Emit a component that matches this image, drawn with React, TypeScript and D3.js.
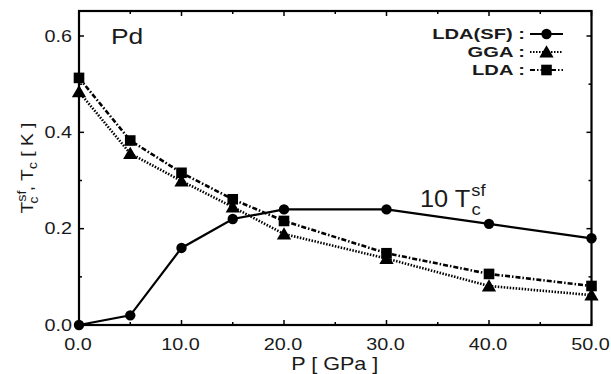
import React from 'react';
import * as d3 from 'd3';

const pressure = [0, 5, 10, 15, 20, 30, 40, 50];
const ldaSF = [0, 0.02, 0.16, 0.22, 0.24, 0.24, 0.21, 0.18];
const gga = [0.484, 0.356, 0.299, 0.245, 0.189, 0.138, 0.081, 0.062];
const lda = [0.513, 0.383, 0.316, 0.261, 0.216, 0.149, 0.106, 0.081];
const xTicks = [0, 10, 20, 30, 40, 50];
const xMinor = [5, 15, 25, 35, 45];
const yTicks = [0, 0.2, 0.4, 0.6];
const yMinor = [0.1, 0.3, 0.5];
const legendLabels = ['LDA(SF) :', 'GGA :', 'LDA :'];

const W = 611;
const H = 374;
const left = 79, right = 591.5, top = 11, bottom = 325;

const font = 'Arial, "Liberation Sans", sans-serif';

// text stretched horizontally, the original figure's font is wide
const SText = ({ x, y, sx = 1, anchor = 'start', size, weight, children }: any) => (
  <text transform={`translate(${x},${y}) scale(${sx},1)`} textAnchor={anchor} fontSize={size}
    fontWeight={weight} fill="#1a1a1a">
    {children}
  </text>
);

const App = () => {
  const x = d3.scaleLinear().domain([0, 50]).range([left, right]);
  const y = d3.scaleLinear().domain([0, 0.6]).range([bottom, 36]);

  const line = d3.line<number>().x((_, i) => x(pressure[i])).y(d => y(d));

  const tri = (cx: number, cy: number, s: number) =>
    `M${cx},${cy - s}L${cx + s * 1.05},${cy + s * 0.8}L${cx - s * 1.05},${cy + s * 0.8}Z`;

  const tick = 5, minor = 3;
  const dashes = [undefined, '1.5,1.5', '5,2,1.5,2'];
  const marks = ['circle', 'tri', 'square'];

  const drawMark = (kind: string, cx: number, cy: number, key: string | number) => {
    if (kind === 'circle') return <circle key={key} cx={cx} cy={cy} r={5.2} fill="#000" />;
    if (kind === 'tri') return <path key={key} d={tri(cx, cy, 6.8)} fill="#000" />;
    return <rect key={key} x={cx - 5.3} y={cy - 5.3} width={10.6} height={10.6} fill="#000" />;
  };

  return (
    <svg width={W} height={H} style={{ position: 'absolute', left: 0, top: 0 }} fontFamily={font}>
      <rect width={W} height={H} fill="#fff" />

      {/* ticks on all four sides, pointing in */}
      {xTicks.map(t => (
        <g key={'xt' + t} stroke="#000" strokeWidth={1.5}>
          <line x1={x(t)} x2={x(t)} y1={bottom} y2={bottom - tick} />
          <line x1={x(t)} x2={x(t)} y1={top} y2={top + tick} />
        </g>
      ))}
      {xMinor.map(t => (
        <g key={'xm' + t} stroke="#000" strokeWidth={1.5}>
          <line x1={x(t)} x2={x(t)} y1={bottom} y2={bottom - minor} />
          <line x1={x(t)} x2={x(t)} y1={top} y2={top + minor} />
        </g>
      ))}
      {yTicks.map(t => (
        <g key={'yt' + t} stroke="#000" strokeWidth={1.5}>
          <line x1={left} x2={left + tick} y1={y(t)} y2={y(t)} />
          <line x1={right} x2={right - tick} y1={y(t)} y2={y(t)} />
        </g>
      ))}
      {yMinor.map(t => (
        <g key={'ym' + t} stroke="#000" strokeWidth={1.5}>
          <line x1={left} x2={left + minor} y1={y(t)} y2={y(t)} />
          <line x1={right} x2={right - minor} y1={y(t)} y2={y(t)} />
        </g>
      ))}

      <rect x={left} y={top} width={right - left} height={bottom - top} fill="none" stroke="#000" strokeWidth={2.2} />

      {xTicks.map(t => (
        <SText key={'xl' + t} x={x(t) - 1} y={350} sx={1.2} anchor="middle" size={16.5}>{t.toFixed(1)}</SText>
      ))}
      {yTicks.map(t => (
        <SText key={'yl' + t} x={72} y={y(t) + 5.8} sx={1.2} anchor="end" size={16.5}>{t.toFixed(1)}</SText>
      ))}

      <SText x={(left + right) / 2 - 0.5} y={370} sx={1.2} anchor="middle" size={18}>P [ GPa ]</SText>
      <text transform={`translate(33,168) rotate(-90) scale(1.2,1)`} textAnchor="middle" fontSize={16} fill="#1a1a1a">
        T<tspan dy={-7} fontSize={12}>sf</tspan><tspan dx={-11} dy={12} fontSize={12}>c</tspan>
        <tspan dy={-5}> , T</tspan><tspan dy={4} fontSize={12}>c</tspan><tspan dy={-4}> [ K ]</tspan>
      </text>

      <SText x={111} y={43.5} sx={1.2} size={22}>Pd</SText>
      <SText x={420} y={207} sx={1.08} size={23.5}>
        10 T<tspan dx={1} dy={-11} fontSize={17}>sf</tspan><tspan dx={-13} dy={19} fontSize={17}>c</tspan>
      </SText>

      <path d={line(lda) ?? ''} fill="none" stroke="#000" strokeWidth={2.6} strokeDasharray="5,2,1.5,2" />
      <path d={line(gga) ?? ''} fill="none" stroke="#000" strokeWidth={2.6} strokeDasharray="1.5,1.5" />
      <path d={line(ldaSF) ?? ''} fill="none" stroke="#000" strokeWidth={2.2} />
      {lda.map((v, i) => drawMark('square', x(pressure[i]), y(v), 'sq' + i))}
      {gga.map((v, i) => drawMark('tri', x(pressure[i]), y(v), 'tr' + i))}
      {ldaSF.map((v, i) => drawMark('circle', x(pressure[i]), y(v), 'ci' + i))}

      {legendLabels.map((label, i) => {
        const ly = 34 + i * 18;
        return (
          <g key={'lg' + i}>
            <SText x={525} y={ly + 5} sx={1.44} anchor="end" size={14} weight="bold">{label}</SText>
            <line x1={530} x2={563} y1={ly} y2={ly} stroke="#000" strokeWidth={2.2} strokeDasharray={dashes[i]} />
            {drawMark(marks[i], 546.5, ly, 'lm' + i)}
          </g>
        );
      })}
    </svg>
  );
};

export default App;
